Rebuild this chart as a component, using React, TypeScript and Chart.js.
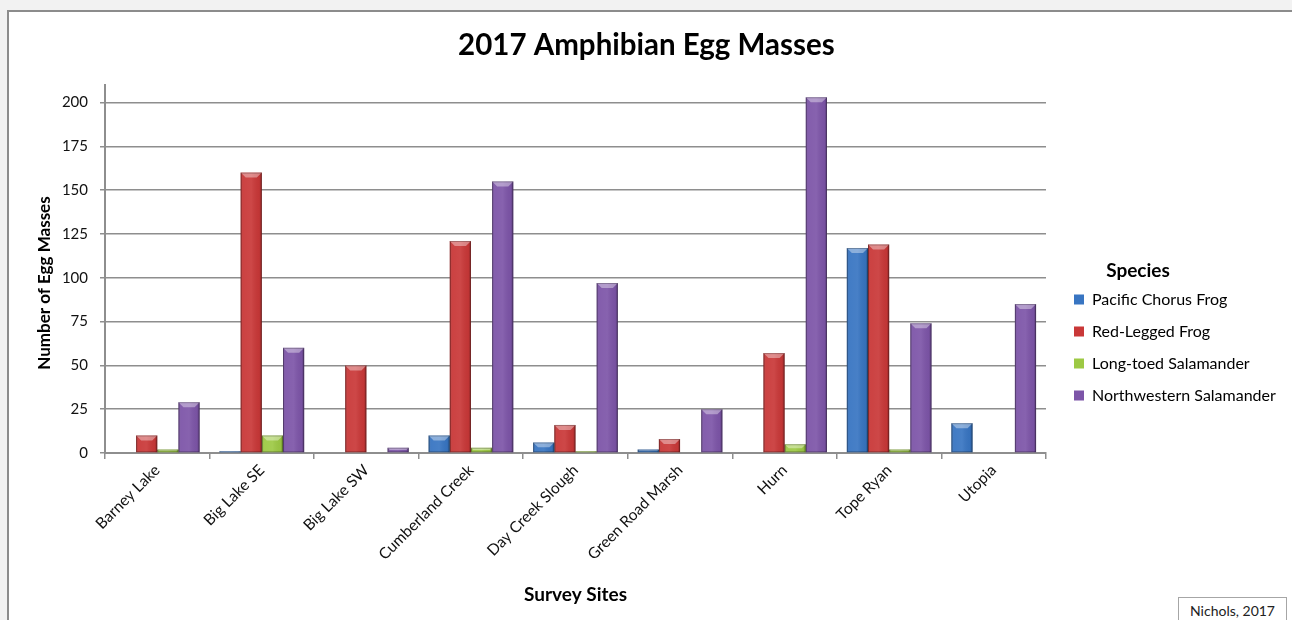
import React, { useEffect, useRef } from "react";
import { Chart, registerables } from "chart.js";

Chart.register(...registerables);

const categories = [
  "Barney Lake",
  "Big Lake SE",
  "Big Lake SW",
  "Cumberland Creek",
  "Day Creek Slough",
  "Green Road Marsh",
  "Hurn",
  "Tope Ryan",
  "Utopia",
];
const pacificChorusFrog = [0, 1, 0, 10, 6, 2, 0, 117, 17];
const redLeggedFrog = [10, 160, 50, 121, 16, 8, 57, 119, 0];
const longToedSalamander = [2, 10, 0, 3, 1, 0, 5, 2, 0];
const northwesternSalamander = [29, 60, 3, 155, 97, 25, 203, 74, 85];
const seriesNames = [
  "Pacific Chorus Frog",
  "Red-Legged Frog",
  "Long-toed Salamander",
  "Northwestern Salamander",
];
const seriesColors = ["#3875c2", "#c93838", "#9dc944", "#7d55a8"];
const yMin = 0;
const yMax = 210;
const yStep = 25;

const FONT = "Lato";
const LEGEND_FONT_SIZE = 16;
const LEGEND_PAD = 16;

const bevelPlugin = {
  id: "bevel",
  afterDatasetsDraw(chart: any) {
    const ctx = chart.ctx;
    chart.data.datasets.forEach((_: any, di: number) => {
      const meta = chart.getDatasetMeta(di);
      meta.data.forEach((bar: any) => {
        const { x, y, base, width } = bar.getProps(["x", "y", "base", "width"], true);
        const left = x - width / 2;
        const right = x + width / 2;
        const top = Math.min(y, base);
        const bottom = Math.max(y, base);
        const h = bottom - top;
        if (h < 0.5) return;
        ctx.save();
        const g = ctx.createLinearGradient(left, 0, right, 0);
        g.addColorStop(0, "rgba(0,0,0,0.22)");
        g.addColorStop(0.12, "rgba(255,255,255,0.05)");
        g.addColorStop(0.5, "rgba(255,255,255,0.08)");
        g.addColorStop(0.88, "rgba(0,0,0,0.04)");
        g.addColorStop(1, "rgba(0,0,0,0.3)");
        ctx.fillStyle = g;
        ctx.fillRect(left, top, width, h);
        const bev = Math.min(5, h / 2);
        ctx.beginPath();
        ctx.moveTo(left, top);
        ctx.lineTo(right, top);
        ctx.lineTo(right - bev, top + bev);
        ctx.lineTo(left + bev, top + bev);
        ctx.closePath();
        ctx.fillStyle = "rgba(255,255,255,0.38)";
        ctx.fill();
        ctx.strokeStyle = "rgba(0,0,0,0.25)";
        ctx.lineWidth = 1;
        ctx.strokeRect(left + 0.5, top + 0.5, width - 1, h - 1);
        ctx.restore();
      });
    });
  },
};

const extraTextPlugin = {
  id: "extraText",
  afterDraw(chart: any) {
    const ctx = chart.ctx;
    const legend = chart.legend;
    ctx.save();
    ctx.fillStyle = "#000";
    ctx.textAlign = "center";
    ctx.textBaseline = "middle";
    if (legend && legend.legendHitBoxes && legend.legendHitBoxes.length) {
      const first = legend.legendHitBoxes[0];
      ctx.font = `bold 19px ${FONT}`;
      ctx.fillText("Species", legend.left + 80, first.top + LEGEND_FONT_SIZE / 2 - 28.5);
    }
    const area = chart.chartArea;
    ctx.font = `bold 17px ${FONT}`;
    ctx.translate(45, (area.top + area.bottom) / 2 + 14);
    ctx.rotate(-Math.PI / 2);
    ctx.fillText("Number of Egg Masses", 0, 0);
    ctx.restore();
  },
};

export default function App() {
  const canvasRef = useRef<HTMLCanvasElement | null>(null);

  useEffect(() => {
    const canvas = canvasRef.current;
    if (!canvas) return;

    const datasets = [pacificChorusFrog, redLeggedFrog, longToedSalamander, northwesternSalamander].map(
      (d, i) => ({
        label: seriesNames[i],
        data: d,
        backgroundColor: seriesColors[i],
        borderWidth: 0,
        yAxisID: "y",
      })
    );

    const makeOptions = (padRight: number): any => ({
      animation: false,
      responsive: false,
      maintainAspectRatio: false,
      devicePixelRatio: 1,
      layout: { padding: { left: 7, top: 10, right: padRight, bottom: 0 } },
      datasets: { bar: { categoryPercentage: 0.81, barPercentage: 1 } },
      plugins: {
        title: {
          display: true,
          text: "2017 Amphibian Egg Masses",
          color: "#000",
          font: { family: FONT, size: 29.5, weight: "bold" },
          padding: { top: 17.3, bottom: 22.3 },
        },
        legend: {
          position: "right",
          align: "center",
          maxWidth: 400,
          labels: {
            boxWidth: 10,
            boxHeight: 10,
            padding: LEGEND_PAD,
            color: "#000",
            font: { family: FONT, size: LEGEND_FONT_SIZE },
          },
        },
        tooltip: { enabled: false },
      },
      scales: {
        x: {
          type: "category",
          offset: true,
          grid: {
            display: true,
            offset: true,
            drawOnChartArea: false,
            drawTicks: true,
            tickLength: 6,
            color: "#8e8e8e",
            lineWidth: 1.5,
          },
          border: { display: true, color: "#8e8e8e", width: 2 },
          ticks: {
            maxRotation: 45,
            minRotation: 45,
            autoSkip: false,
            padding: 2,
            color: "#111",
            font: { family: FONT, size: 15.5 },
          },
          title: {
            display: true,
            text: "Survey Sites",
            color: "#000",
            font: { family: FONT, size: 19, weight: "bold" },
            padding: { top: 0, bottom: 78.6 },
          },
          afterFit: (s: any) => {
            s.height = 232;
          },
        },
        y: {
          type: "linear",
          position: "left",
          min: yMin,
          max: yMax,
          ticks: {
            stepSize: yStep,
            padding: 12,
            color: "#111",
            font: { family: FONT, size: 15 },
          },
          afterBuildTicks: (s: any) => {
            s.ticks = s.ticks.filter((t: any) => t.value % yStep === 0);
          },
          grid: {
            color: "#8e8e8e",
            lineWidth: 1.5,
            tickLength: 5,
            drawTicks: true,
          },
          border: { display: true, color: "#8e8e8e", width: 2 },
          title: { display: false },
          afterFit: (s: any) => {
            s.width = 98;
          },
        },
        gap: {
          type: "linear",
          position: "right",
          display: true,
          grid: { display: false, drawTicks: false },
          border: { display: false },
          ticks: { display: false },
          afterFit: (s: any) => {
            s.width = 12;
          },
        },
      },
    });

    const chart = new Chart(canvas, {
      type: "bar",
      data: { labels: categories, datasets },
      plugins: [bevelPlugin, extraTextPlugin],
      options: makeOptions(0),
    });

    const relayout = () => {
      // legend left edge should sit at 1058 (so legend boxes start at 1074)
      const legend: any = chart.legend;
      if (!legend) return;
      const w = legend.width;
      const padRight = Math.max(0, 1292 - 1058 - w);
      chart.options.layout.padding = { left: 7, top: 10, right: padRight, bottom: 0 } as any;
      chart.update();
    };

    let alive = true;
    const fontsApi: any = (document as any).fonts;
    const loads = fontsApi
      ? Promise.all([
          fontsApi.load(`${LEGEND_FONT_SIZE}px ${FONT}`),
          fontsApi.load(`bold 17px ${FONT}`),
        ]).catch(() => null)
      : Promise.resolve(null);
    relayout();
    loads.then(() => {
      if (!alive) return;
      relayout();
      relayout();
    });
    return () => {
      alive = false;
      chart.destroy();
    };
  }, []);

  return (
    <div
      style={{
        position: "fixed",
        left: 0,
        top: 0,
        width: 1292,
        height: 620,
        overflow: "hidden",
        background: "#f2f2f2",
      }}
    >
      <div
        style={{
          position: "absolute",
          left: 7,
          top: 10,
          width: 1300,
          height: 700,
          background: "#fff",
          borderLeft: "2px solid #8c8c8c",
          borderTop: "2px solid #8c8c8c",
        }}
      />
      <canvas
        ref={canvasRef}
        width={1292}
        height={685}
        style={{ position: "absolute", left: 0, top: 0, width: 1292, height: 685 }}
      />
      <div
        style={{
          position: "absolute",
          left: 1178,
          top: 597,
          width: 109,
          height: 30,
          boxSizing: "border-box",
          border: "1px solid #a6a6a6",
          background: "#fff",
          fontFamily: FONT,
          fontSize: 14,
          color: "#222",
          textAlign: "center",
          paddingTop: 4,
        }}
      >
        Nichols, 2017
      </div>
    </div>
  );
}
